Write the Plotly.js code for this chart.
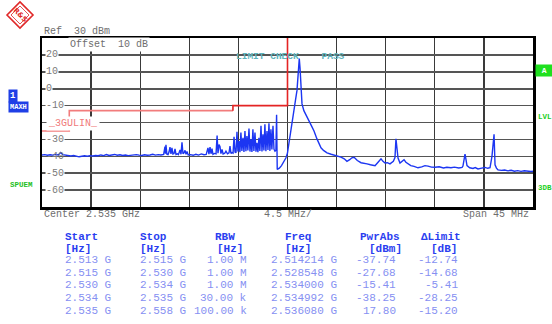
<!DOCTYPE html>
<html>
<head>
<meta charset="utf-8">
<script src="https://cdn.plot.ly/plotly-3.0.1.min.js"></script>
<style>html,body{margin:0;padding:0;background:#fff;}#chart{width:552px;height:324px;}</style>
</head>
<body>
<div id="chart"></div>
<script>
// ---- trace data (frequency in MHz, level in dBm) ----
const freqMHz = [
2512.5,2512.75,2513.0,2513.25,2513.5,2513.75,2514.0,2514.21,2514.4,2514.65,2514.9,2515.15,2515.4,2515.65,2515.9,2516.15,2516.4,2516.65,2516.9,2517.15,2517.4,2517.65,2517.9,2518.15,2518.4,2518.65,2518.9,2519.15,2519.4,2519.65,2519.9,2520.15,2520.4,2520.65,2520.9,2521.15,2521.4,2521.65,2521.9,2522.15,2522.4,2522.65,2522.9,2523.15,2523.4,2523.65,
2523.77,2523.82,2523.86,2523.95,2524.05,2524.14,2524.23,2524.32,2524.41,2524.5,2524.6,2524.69,2524.78,2524.9,2525.0,2525.15,2525.24,2525.33,2525.42,2525.52,2525.61,2525.7,2525.79,2525.9,2526.1,2526.35,2526.6,2526.85,2527.1,2527.35,2527.55,2527.71,2527.8,2527.9,2527.99,2528.08,2528.17,2528.3,2528.45,2528.548,2528.63,2528.72,2528.81,2528.9,2529.0,2529.1,2529.25,2529.36,2529.5,2529.64,2529.73,2529.82,2529.92,2530.01,2530.10,2530.19,2530.28,2530.37,2530.46,2530.55,2530.64,2530.73,2530.82,2530.92,2531.01,2531.10,2531.19,2531.28,2531.37,2531.47,2531.56,2531.65,2531.74,2531.83,2531.92,2532.02,2532.11,2532.20,2532.29,2532.38,2532.47,2532.57,2532.66,2532.75,2532.84,2532.93,2533.02,2533.12,2533.21,2533.30,2533.39,2533.48,2533.57,2533.67,2533.76,2533.85,2533.94,2534.0,2534.06,
2534.25,2534.45,2534.65,2534.85,2534.992,2535.15,2535.3,2535.45,2535.6,2535.75,2535.87,2535.95,2536.02,2536.08,2536.15,2536.24,2536.33,2536.5,2536.7,2536.97,2537.2,2537.43,2537.7,2537.9,2538.07,2538.3,2538.62,2539.0,2539.4,2539.9,2540.2,2540.45,2540.7,2540.9,2541.1,2541.4,2541.74,2542.0,2542.29,2542.6,2543.02,2543.3,2543.57,2543.75,2543.94,2544.15,2544.39,2544.7,2544.85,2544.94,2545.03,2545.13,2545.31,2545.5,2545.68,2545.85,2546.04,2546.3,2546.6,2546.96,2547.3,2547.6,2547.88,2548.2,2548.52,2548.9,2549.3,2549.6,2549.98,2550.3,2550.7,2551.0,2551.08,2551.18,2551.27,2551.36,2551.45,2551.7,2552.0,2552.2,2552.46,2552.8,2553.1,2553.35,2553.56,2553.74,2553.84,2553.93,2554.02,2554.15,2554.29,2554.6,2554.9,2555.21,2555.5,2555.8,2556.1,2556.4,2556.7,2557.0,2557.32,2557.5
];
const levelDbm = [
-39.2,-39.0,-39.4,-39.1,-39.3,-38.9,-39.2,-37.74,-39.0,-39.3,-39.6,-39.8,-39.5,-40.1,-40.3,-40.0,-39.7,-40.0,-39.6,-39.8,-39.5,-39.7,-39.2,-39.6,-39.0,-39.5,-39.3,-38.9,-39.4,-39.1,-39.5,-39.2,-39.6,-39.3,-39.4,-39.0,-39.3,-39.5,-39.1,-39.4,-39.2,-38.8,-39.3,-39.0,-39.2,-38.9,
-34.2,-38.5,-33.2,-38.8,-39.0,-37.5,-34.5,-38.6,-35.0,-38.7,-38.4,-35.6,-38.9,-38.5,-39.0,-36.2,-38.8,-31.7,-38.4,-37.9,-36.5,-38.8,-37.2,-39.2,-39.0,-39.4,-38.8,-39.3,-38.6,-39.1,-38.9,-35.0,-38.7,-34.6,-38.5,-35.5,-38.8,-38.3,-38.6,-27.68,-38.2,-33.0,-34.2,-38.4,-36.0,-38.6,-38.2,-37.0,-38.5,-38.0,-34.0,-38.3,-37.8,-38.1,-28.5,-37.5,-37.9,-25.5,-37.2,-31.0,-37.6,-26.0,-36.8,-29.0,-37.4,-25.0,-37.0,-28.0,-36.5,-23.5,-37.2,-30.0,-37.5,-24.0,-36.9,-26.0,-37.3,-32.0,-37.6,-29.0,-36.8,-22.0,-37.1,-27.0,-36.5,-21.0,-37.0,-25.0,-36.2,-20.5,-36.8,-24.0,-36.0,-22.0,-35.8,-37.0,-36.5,-15.41,-47.8,
-47.0,-45.5,-43.5,-41.0,-38.25,-32.0,-26.0,-20.0,-14.6,-6.0,-1.0,8.0,15.0,17.8,12.0,-1.0,-9.0,-13.0,-16.0,-19.0,-22.0,-25.0,-29.7,-32.5,-35.0,-36.5,-38.0,-38.8,-39.4,-40.5,-41.5,-43.0,-42.0,-40.9,-40.6,-42.5,-43.8,-44.0,-44.5,-45.0,-45.6,-43.5,-41.5,-43.0,-44.0,-43.8,-44.5,-43.0,-40.8,-29.7,-38.0,-41.0,-44.0,-43.0,-42.0,-43.5,-44.5,-45.5,-46.0,-46.8,-46.3,-45.5,-45.8,-46.4,-46.5,-46.2,-46.9,-46.5,-46.8,-46.4,-46.9,-46.6,-45.8,-41.0,-38.7,-42.0,-45.5,-46.8,-47.2,-46.7,-47.5,-47.0,-46.6,-47.1,-46.8,-40.0,-30.0,-27.0,-45.0,-47.0,-48.0,-48.3,-48.1,-48.6,-48.3,-48.8,-48.5,-48.9,-48.6,-48.9,-49.0,-48.8
];

// ---- limit line ----
const limitFreqA = [2512.5, 2515, 2515, 2530];
const limitLevelA = [-25, -25, -13, -13];
const limitFreqB = [2530, 2530, 2535, 2535];
const limitLevelB = [-13, -10, -10, 33];

// ---- axis ----
const yTicks = [20, 10, 0, -10, -20, -30, -40, -50, -60];
const yTickLabels = ['20', '10', '0', '-10', '-20', '-30', '-40', '-50', '-60'];

// ---- result table ----
const tableHeaders = ['Start', 'Stop', 'RBW', 'Freq', 'PwrAbs', '\u0394Limit'];
const tableUnits = ['[Hz]', '[Hz]', '[Hz]', '[Hz]', '[dBm]', '[dB]'];
const colStart = ['2.513 G', '2.515 G', '2.530 G', '2.534 G', '2.535 G'];
const colStop = ['2.515 G', '2.530 G', '2.534 G', '2.535 G', '2.558 G'];
const colRbw = ['1.00 M', '1.00 M', '1.00 M', '30.00 k', '100.00 k'];
const colFreq = ['2.514214 G', '2.528548 G', '2.534000 G', '2.534992 G', '2.536080 G'];
const colPwr = ['-37.74', '-27.68', '-15.41', '-38.25', '17.80'];
const colLimit = ['-12.74', '-14.68', '-5.41', '-28.25', '-15.20'];

// ---- geometry helpers (pixel -> paper) ----
const L = 42, R = 533, T = 38, B = 207;
const px = x => (x - L) / (R - L);
const py = y => (B - y) / (B - T);
const MONO = 'Liberation Mono, DejaVu Sans Mono, monospace';

const ann = [];
function txt(x, y, text, opt) {
  opt = opt || {};
  ann.push(Object.assign({
    xref: 'paper', yref: 'paper', x: px(x), y: py(y), text: text, showarrow: false,
    xanchor: 'left', yanchor: 'middle',
    font: {family: MONO, size: 10, color: '#6e6e6e'}
  }, opt));
}

// y tick labels inside plot (the -20 label is hidden under the limit-line name in the reference)
yTicks.forEach((v, i) => {
  if (v === -20) return;
  ann.push({xref: 'paper', yref: 'y', x: px(45), y: v, text: yTickLabels[i], showarrow: false,
    xanchor: 'left', yanchor: 'middle', bgcolor: v === -40 ? 'rgba(0,0,0,0)' : '#ffffff', borderpad: 0,
    font: {family: MONO, size: 10, color: '#7a7a7a'}});
});

txt(42, 31, 'Ref  30 dBm');
txt(68, 44.5, 'Offset  10 dB', {bgcolor: '#ffffff'});
txt(234, 56, 'LIMIT CHECK    PASS', {font: {family: MONO, size: 9.5, color: '#5fb4bd', weight: 'bold'}});
txt(46, 124, '_3GULIN_', {bgcolor: '#ffffff', font: {family: MONO, size: 10, color: '#f07a7a'}});
txt(42, 214.5, 'Center 2.535 GHz');
txt(288, 214.5, '4.5 MHz/', {xanchor: 'center'});
txt(531, 214.5, 'Span 45 MHz', {xanchor: 'right'});

// side labels
txt(8, 95.5, '1', {bgcolor: '#1f3fe6', borderpad: 1, font: {family: MONO, size: 9, color: '#ffffff', weight: 'bold'}});
txt(8, 107, 'MAXH', {bgcolor: '#1f3fe6', borderpad: 1, font: {family: MONO, size: 7, color: '#ffffff', weight: 'bold'}});
txt(8, 185, 'SPUEM', {font: {family: MONO, size: 7.5, color: '#22c022', weight: 'bold'}});
txt(535, 70, ' A ', {bgcolor: '#1fe01f', borderpad: 1, font: {family: MONO, size: 8, color: '#ffffff', weight: 'bold'}});
txt(536, 117, 'LVL', {font: {family: MONO, size: 7.5, color: '#22d022', weight: 'bold'}});
txt(536, 188, '3DB', {font: {family: MONO, size: 7.5, color: '#22d022', weight: 'bold'}});

// logo text
ann.push({xref: 'paper', yref: 'paper', x: px(20), y: py(15), text: 'R&S', showarrow: false,
  xanchor: 'center', yanchor: 'middle', textangle: 45,
  font: {family: 'DejaVu Sans', size: 7, color: '#e02828', weight: 'bold'}});

// table
const HEAD = {family: MONO, size: 11, color: '#2a3ef0', weight: 'bold'};
const VAL = {family: MONO, size: 11, color: '#8690f2'};
const headX = [63, 138, 213, 283, 358, 419];
const unitX = [63, 138, 215, 283, 367, 429];
tableHeaders.forEach((h, i) => txt(headX[i], 237, h, {font: HEAD}));
tableUnits.forEach((u, i) => txt(unitX[i], 248.5, u, {font: HEAD}));
const rowY = [260, 272.7, 285.4, 298.1, 310.8];
rowY.forEach((y, r) => {
  txt(63, y, colStart[r], {font: VAL});
  txt(138, y, colStop[r], {font: VAL});
  txt(249, y, colRbw[r], {font: VAL, xanchor: 'right'});
  txt(269, y, colFreq[r], {font: VAL});
  txt(398, y, colPwr[r], {font: VAL, xanchor: 'right'});
  txt(460, y, colLimit[r], {font: VAL, xanchor: 'right'});
});

// logo diamond shape
function path(pts) { return 'M ' + pts.map(p => px(p[0]) + ',' + py(p[1])).join(' L ') + ' Z'; }
const shapes = [
  {type: 'path', xref: 'paper', yref: 'paper', path: path([[7, 15], [20, 2], [33, 15], [20, 28]]),
   line: {color: '#e02828', width: 1.6}, fillcolor: '#ffffff'},
  {type: 'path', xref: 'paper', yref: 'paper', path: path([[11, 15], [20, 6], [29, 15], [20, 24]]),
   line: {color: '#e02828', width: 0.8}, fillcolor: 'rgba(0,0,0,0)'}
];

const traces = [
  {x: limitFreqA, y: limitLevelA, type: 'scatter', mode: 'lines', line: {color: '#f27c7c', width: 1.6}, hoverinfo: 'skip'},
  {x: limitFreqB, y: limitLevelB, type: 'scatter', mode: 'lines', line: {color: '#e42424', width: 1.6}, hoverinfo: 'skip'},
  {x: freqMHz, y: levelDbm, type: 'scatter', mode: 'lines', line: {color: '#1c36f2', width: 1.4}, hoverinfo: 'skip'}
];

const layout = {
  width: 552, height: 324,
  margin: {l: L, r: 552 - R, t: T, b: 324 - B, pad: 0},
  paper_bgcolor: '#ffffff', plot_bgcolor: '#ffffff',
  showlegend: false,
  xaxis: {range: [2512.5, 2557.5], tick0: 2512.5, dtick: 4.5, showticklabels: false, ticks: '',
    showgrid: true, gridcolor: '#3a3a3a', gridwidth: 1.3, zeroline: false,
    showline: true, mirror: true, linecolor: '#000000', linewidth: 2.5, fixedrange: true},
  yaxis: {range: [-70, 30], tick0: 0, dtick: 10, showticklabels: false, ticks: '',
    showgrid: true, gridcolor: '#555555', gridwidth: 1.6, zeroline: false,
    showline: true, mirror: true, linecolor: '#000000', linewidth: 2.5, fixedrange: true},
  annotations: ann,
  shapes: shapes
};

Plotly.newPlot('chart', traces, layout, {staticPlot: true, displayModeBar: false});
</script>
</body>
</html>
